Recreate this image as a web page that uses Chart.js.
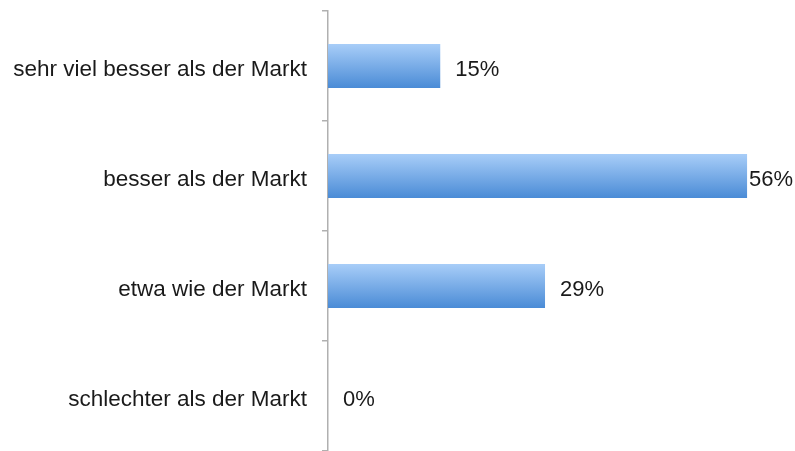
<!DOCTYPE html>
<html>
<head>
<meta charset="utf-8">
<script src="https://cdn.jsdelivr.net/npm/chart.js@4"></script>
<style>
  html, body { margin: 0; padding: 0; background: #fff; }
  #wrap { width: 795px; height: 451px; position: relative; }
</style>
</head>
<body>
<div id="wrap"><canvas id="chart"></canvas></div>
<script>
'use strict';

/* ── Data ── */
const categories = [
  'sehr viel besser als der Markt',
  'besser als der Markt',
  'etwa wie der Markt',
  'schlechter als der Markt',
];
const shares = [15, 56, 29, 0];

const FONT = "'Liberation Sans', Arial, sans-serif";
const AXIS_GREY = '#b0b0b0';
const BAR_PCT = 0.5;
const CAT_PCT = 0.8;

/* bar fill: vertical gradient per bar, positioned from the y scale */
const barFill = (ctx) => {
  const chart = ctx.chart;
  const y = chart.scales.y;
  if (!y || !chart.chartArea) return '#7aaee8';
  const mid = y.getPixelForValue(ctx.dataIndex);
  const h = (chart.chartArea.bottom - chart.chartArea.top) / categories.length * BAR_PCT * CAT_PCT;
  if (!isFinite(mid) || !isFinite(h)) return '#7aaee8';
  const g = chart.ctx.createLinearGradient(0, mid - h / 2, 0, mid + h / 2);
  g.addColorStop(0, '#a8cdf8');
  g.addColorStop(1, '#4a8bd6');
  return g;
};

/* value labels to the right of each bar */
const valueLabels = {
  id: 'valueLabels',
  afterDatasetsDraw(chart) {
    const { ctx } = chart;
    const meta = chart.getDatasetMeta(0);
    ctx.save();
    ctx.font = `22px ${FONT}`;
    ctx.fillStyle = '#1a1a1a';
    ctx.textBaseline = 'middle';
    meta.data.forEach((bar, i) => {
      const txt = `${shares[i]}%`;
      const w = ctx.measureText(txt).width;
      let x = bar.x + 15;
      if (x + w > chart.width - 2) x = chart.width - 2 - w;
      ctx.fillText(txt, x, bar.y + 4);
    });
    ctx.restore();
  },
};

new Chart(document.getElementById('chart'), {
  type: 'bar',
  data: {
    labels: categories,
    datasets: [{
      data: shares,
      backgroundColor: barFill,
      borderWidth: 0,
      barPercentage: BAR_PCT,
      categoryPercentage: CAT_PCT,
    }],
  },
  options: {
    indexAxis: 'y',
    responsive: true,
    maintainAspectRatio: false,
    animation: false,
    layout: { padding: { left: 12, right: 18, top: 11, bottom: 0 } },
    plugins: {
      legend: { display: false },
      tooltip: { enabled: false },
    },
    scales: {
      x: {
        display: false,
        min: 0,
        max: 60,
      },
      y: {
        afterFit: (s) => {
          s.width = 316;
          s.paddingTop = 0;
          s.paddingBottom = 0;
        },
        grid: {
          offset: true,
          drawOnChartArea: false,
          tickLength: 6,
          color: AXIS_GREY,
          lineWidth: 1.5,
        },
        border: { color: AXIS_GREY, width: 1.5 },
        ticks: {
          padding: 15,
          labelOffset: 4,
          color: '#1a1a1a',
          font: { family: FONT, size: 22.5 },
        },
      },
    },
  },
  plugins: [valueLabels],
});
</script>
</body>
</html>
